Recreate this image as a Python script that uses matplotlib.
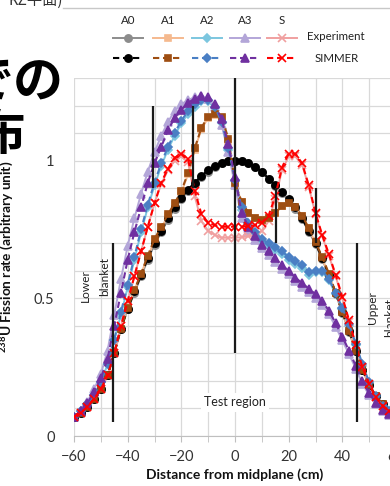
import matplotlib
matplotlib.use('Agg')
import matplotlib.pyplot as plt
from matplotlib.lines import Line2D
from matplotlib.ticker import MultipleLocator, FixedLocator

plt.rcParams['font.family'] = ['Lato', 'DejaVu Sans']
plt.rcParams['mathtext.fontset'] = 'custom'
plt.rcParams['mathtext.rm'] = 'Lato:bold'
plt.rcParams['mathtext.default'] = 'rm'

# ---------------- data ----------------
positions = [-60, -57.5, -55, -52.5, -50, -47.5, -45, -42.5, -40, -37.5, -35, -32.5,
             -30, -27.5, -25, -22.5, -20, -17.5, -15, -12.5, -10, -7.5, -5, -2.5,
             0, 2.5, 5, 7.5, 10, 12.5, 15, 17.5, 20, 22.5, 25, 27.5, 30, 32.5, 35,
             37.5, 40, 42.5, 45, 47.5, 50, 52.5, 55, 57.5, 60]

a0_exp = [0.07, 0.085, 0.105, 0.135, 0.17, 0.22, 0.30, 0.39, 0.46, 0.52, 0.58, 0.64,
          0.695, 0.74, 0.785, 0.825, 0.86, 0.89, 0.915, 0.94, 0.96, 0.977, 0.99, 0.997,
          1.0, 0.997, 0.99, 0.977, 0.958, 0.933, 0.907, 0.882, 0.856, 0.826, 0.787, 0.742,
          0.697, 0.642, 0.582, 0.517, 0.448, 0.378, 0.308, 0.24, 0.185, 0.145, 0.113, 0.09, 0.075]
a0_sim = [0.07, 0.085, 0.105, 0.135, 0.17, 0.22, 0.30, 0.39, 0.46, 0.525, 0.585, 0.645,
          0.70, 0.745, 0.79, 0.83, 0.865, 0.895, 0.92, 0.945, 0.965, 0.98, 0.992, 0.998,
          1.0, 0.998, 0.99, 0.978, 0.96, 0.935, 0.91, 0.885, 0.86, 0.83, 0.79, 0.745,
          0.70, 0.645, 0.585, 0.52, 0.45, 0.38, 0.31, 0.24, 0.185, 0.145, 0.115, 0.09, 0.075]

a1_exp = [0.07, 0.085, 0.105, 0.135, 0.17, 0.22, 0.30, 0.39, 0.465, 0.53, 0.59, 0.65,
          0.71, 0.755, 0.80, 0.84, 0.885, 0.95, 1.04, 1.115, 1.155, 1.165, 1.155, 1.07,
          0.915, 0.85, 0.81, 0.79, 0.785, 0.79, 0.81, 0.835, 0.845, 0.83, 0.80, 0.755,
          0.70, 0.645, 0.585, 0.52, 0.45, 0.38, 0.31, 0.24, 0.185, 0.145, 0.115, 0.09, 0.075]
a1_sim = [0.07, 0.085, 0.105, 0.135, 0.17, 0.22, 0.30, 0.39, 0.465, 0.53, 0.59, 0.655,
          0.715, 0.76, 0.805, 0.845, 0.89, 0.955, 1.045, 1.12, 1.16, 1.17, 1.16, 1.08,
          0.92, 0.85, 0.81, 0.79, 0.785, 0.79, 0.81, 0.835, 0.845, 0.83, 0.80, 0.755,
          0.705, 0.65, 0.59, 0.52, 0.45, 0.38, 0.31, 0.24, 0.185, 0.145, 0.115, 0.09, 0.075]

a2_exp = [0.07, 0.09, 0.115, 0.15, 0.195, 0.26, 0.35, 0.44, 0.54, 0.64, 0.74, 0.83,
          0.91, 0.98, 1.04, 1.09, 1.135, 1.17, 1.195, 1.215, 1.215, 1.19, 1.135, 1.04,
          0.925, 0.82, 0.765, 0.73, 0.705, 0.69, 0.675, 0.66, 0.64, 0.625, 0.61, 0.585,
          0.595, 0.595, 0.565, 0.515, 0.46, 0.40, 0.33, 0.255, 0.19, 0.14, 0.11, 0.09, 0.075]
a2_sim = [0.07, 0.09, 0.115, 0.15, 0.195, 0.26, 0.35, 0.45, 0.55, 0.65, 0.75, 0.84,
          0.92, 0.99, 1.05, 1.10, 1.145, 1.18, 1.205, 1.22, 1.22, 1.195, 1.14, 1.045,
          0.93, 0.83, 0.775, 0.74, 0.715, 0.70, 0.685, 0.67, 0.65, 0.635, 0.62, 0.595,
          0.60, 0.60, 0.57, 0.52, 0.465, 0.405, 0.335, 0.26, 0.195, 0.145, 0.11, 0.09, 0.075]

a3_exp = [0.07, 0.09, 0.125, 0.17, 0.225, 0.31, 0.44, 0.57, 0.69, 0.79, 0.88, 0.96,
          1.03, 1.09, 1.14, 1.18, 1.205, 1.22, 1.23, 1.235, 1.225, 1.195, 1.13, 1.03,
          0.91, 0.79, 0.745, 0.712, 0.683, 0.657, 0.632, 0.607, 0.587, 0.562, 0.542, 0.522,
          0.502, 0.477, 0.442, 0.397, 0.347, 0.297, 0.245, 0.19, 0.148, 0.115, 0.092, 0.078, 0.07]
a3_sim = [0.07, 0.09, 0.12, 0.16, 0.21, 0.28, 0.40, 0.52, 0.64, 0.74, 0.83, 0.92,
          0.99, 1.05, 1.11, 1.155, 1.185, 1.21, 1.225, 1.235, 1.23, 1.205, 1.15, 1.06,
          0.94, 0.81, 0.76, 0.725, 0.695, 0.67, 0.645, 0.62, 0.60, 0.575, 0.555, 0.535,
          0.515, 0.49, 0.455, 0.41, 0.36, 0.31, 0.255, 0.20, 0.155, 0.12, 0.095, 0.08, 0.07]

s_exp = [0.07, 0.085, 0.105, 0.135, 0.17, 0.22, 0.30, 0.40, 0.49, 0.58, 0.67, 0.76,
         0.845, 0.915, 0.965, 1.0, 1.015, 0.995, 0.87, 0.78, 0.745, 0.73, 0.72, 0.72,
         0.72, 0.722, 0.725, 0.73, 0.745, 0.78, 0.86, 0.965, 1.015, 1.015, 0.985, 0.905,
         0.805, 0.725, 0.655, 0.58, 0.50, 0.415, 0.325, 0.245, 0.185, 0.14, 0.11, 0.09, 0.08]
s_sim = [0.07, 0.085, 0.105, 0.135, 0.17, 0.22, 0.30, 0.40, 0.49, 0.58, 0.67, 0.76,
         0.845, 0.92, 0.97, 1.01, 1.025, 1.005, 0.89, 0.805, 0.775, 0.765, 0.76, 0.76,
         0.76, 0.76, 0.762, 0.765, 0.775, 0.80, 0.87, 0.975, 1.025, 1.025, 0.99, 0.91,
         0.81, 0.73, 0.66, 0.585, 0.505, 0.42, 0.33, 0.25, 0.19, 0.14, 0.11, 0.09, 0.08]

case_names = ['A0', 'A1', 'A2', 'A3', 'S']
exp_series = [a0_exp, a1_exp, a2_exp, a3_exp, s_exp]
sim_series = [a0_sim, a1_sim, a2_sim, a3_sim, s_sim]

boundary_x = [-45.5, -30.5, -15.5, 0, 15.3, 30.2, 45.5]
boundary_lo = [0.05, 0.90, 0.90, 0.30, 0.70, 0.70, 0.05]
boundary_hi = [0.70, 1.20, 1.20, 1.30, 0.90, 0.90, 0.70]

x_ticks = [-60, -40, -20, 0, 20, 40, 60]
y_ticks = [0, 0.5, 1]
y_tick_labels = ['0', '0.5', '1']

# ---------------- styles ----------------
markers = ['o', 's', 'D', '^', 'x']
msizes = [5.2, 5.0, 4.0, 5.4, 5.4]
exp_colors = ['#8C8C8C', '#F5B98E', '#7CC6DF', '#B3A6D8', '#F0A0A0']
sim_colors = ['#000000', '#9E4E12', '#4A7FC4', '#7030A0', '#FF0000']

W, H = 390, 486
fig = plt.figure(figsize=(3.9, 4.86), dpi=100)
fig.patch.set_facecolor('white')
ax = fig.add_axes([74 / W, 50 / H, 322 / W, 358 / H])

for i in range(len(case_names)):
    mk = markers[i]
    ax.plot(positions, exp_series[i], color=exp_colors[i], lw=1.4, ls='-',
            marker=mk, ms=msizes[i], mec=exp_colors[i], mfc=exp_colors[i],
            mew=1.2, zorder=3)
for i in range(len(case_names)):
    mk = markers[i]
    ax.plot(positions, sim_series[i], color=sim_colors[i], lw=1.5, ls=(0, (3, 1.8)),
            marker=mk, ms=msizes[i], mec=sim_colors[i], mfc=sim_colors[i],
            mew=1.2, zorder=4)

ax.vlines(boundary_x, boundary_lo, boundary_hi, colors='#1a1a1a', lw=1.6, zorder=6)

ax.set_xlim(-60, 60)
ax.set_ylim(0, 1.3)
ax.xaxis.set_major_locator(FixedLocator(x_ticks))
ax.xaxis.set_minor_locator(MultipleLocator(10))
ax.yaxis.set_major_locator(FixedLocator(y_ticks))
ax.set_yticklabels(y_tick_labels)
ax.yaxis.set_minor_locator(MultipleLocator(0.1))
ax.grid(True, which='both', color='#D9D9D9', lw=0.9)
ax.set_axisbelow(True)
for s in ['top', 'right', 'left']:
    ax.spines[s].set_visible(False)
ax.spines['bottom'].set_color('#BFBFBF')
ax.tick_params(axis='x', which='both', length=4, color='#BFBFBF', labelsize=10.5,
               pad=6, labelcolor='#333333')
ax.tick_params(axis='y', which='both', length=0, labelsize=10.5, pad=14,
               labelcolor='#333333')

ax.set_xlabel('Distance from midplane (cm)', fontsize=10, fontweight='bold',
              labelpad=3, color='#111111')
ax.set_ylabel(r'$^{238}$U Fission rate (arbitrary unit)', fontsize=9.8,
              fontweight='bold', labelpad=13, color='#111111')

ax.text(0, 0.123, 'Test region', ha='center', va='center', fontsize=9,
        color='#222222', bbox=dict(fc='white', ec='none', pad=2.5), zorder=2)
ax.text(-55.9, 0.545, 'Lower', rotation=90, ha='center', va='center', fontsize=8.6,
        color='#222222')
ax.text(-48.6, 0.58, 'blanket', rotation=90, ha='center', va='center', fontsize=8.6,
        color='#222222')
ax.text(51.2, 0.465, 'Upper', rotation=90, ha='center', va='center', fontsize=8.6,
        color='#222222')
ax.text(57.6, 0.43, 'blanket', rotation=90, ha='center', va='center', fontsize=8.6,
        color='#222222')

# ---------------- legend (figure coordinates) ----------------
def fx(px):
    return px / W


def fy(py):
    return 1 - py / H


leg_centers = [128, 168, 207, 245, 282]
for i, name in enumerate(case_names):
    cx = leg_centers[i]
    fig.text(fx(cx), fy(20), name, ha='center', va='center', fontsize=8.3,
             color='#222222')
    fig.add_artist(Line2D([fx(cx - 15), fx(cx), fx(cx + 15)], [fy(38)] * 3,
                          color=exp_colors[i], lw=1.4, marker=markers[i],
                          ms=msizes[i], mec=exp_colors[i], mfc=exp_colors[i],
                          mew=1.2, markevery=[1]))
    fig.add_artist(Line2D([fx(cx - 15), fx(cx), fx(cx + 15)], [fy(58)] * 3,
                          color=sim_colors[i], lw=1.5, ls=(0, (3, 1.8)),
                          marker=markers[i], ms=msizes[i], mec=sim_colors[i],
                          mfc=sim_colors[i], mew=1.2, markevery=[1]))
fig.text(fx(307), fy(37), 'Experiment', ha='left', va='center', fontsize=8.3,
         color='#222222')
fig.text(fx(315), fy(58), 'SIMMER', ha='left', va='center', fontsize=8.3,
         color='#222222')

# ---------------- slide fragments behind the chart ----------------
jp = ['Noto Sans CJK JP', 'DejaVu Sans']
fig.text(fx(64), fy(82), 'での', ha='right', va='center', fontsize=36,
         fontweight='bold', family=jp, color='black')
fig.text(fx(25), fy(135), '布', ha='right', va='center', fontsize=36,
         fontweight='bold', family=jp, color='black')
fig.text(fx(9), fy(0), 'RZ平面)', ha='left', va='center', fontsize=11,
         family=jp, color='#333333')
fig.add_artist(Line2D([fx(63), fx(390)], [fy(8), fy(8)], color='#C8C8C8', lw=1.0))

fig.savefig('out.png', dpi=100, facecolor='white')
